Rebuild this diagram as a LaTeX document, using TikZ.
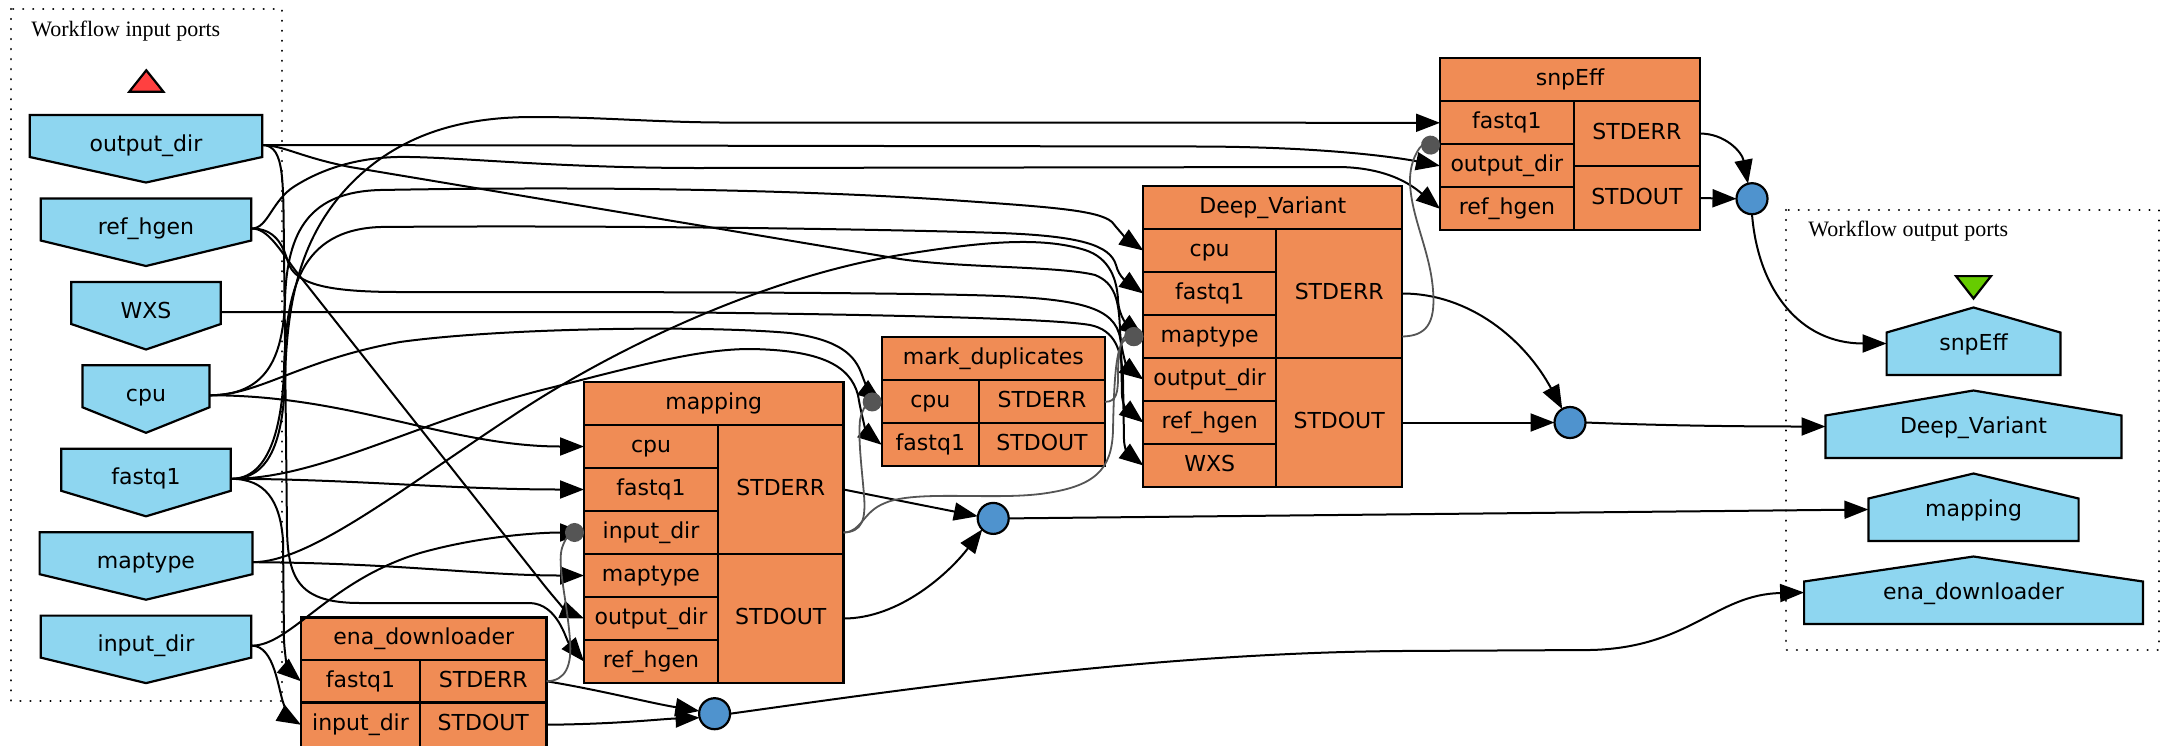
\documentclass[tikz,border=0pt]{standalone}
\usepackage{fontspec}
\setmainfont{DejaVu Sans}
\newfontfamily\titlefont{Liberation Serif}
\usetikzlibrary{arrows.meta}
\definecolor{procfill}{HTML}{F08C55}
\definecolor{portfill}{HTML}{8ED6F0}
\definecolor{circfill}{HTML}{4F93CE}
\definecolor{ctrlgray}{HTML}{555555}
\definecolor{redtri}{HTML}{FF4040}
\definecolor{greentri}{HTML}{66CC00}
\newcommand{\pcell}[6]{%
  \node[pcell, minimum width={(#4-#2)*0.5pt}, minimum height={(#5-#3)*0.5pt}] (#1) at ({(#2+#4)/2},{(#3+#5)/2}) {#6};}
\newcommand{\inport}[4]{%
  \draw[portshape] ({146-#3},#2) -- ({146+#3},#2) -- ({146+#3},{#2+42}) -- (146,{#2+67.5}) -- ({146-#3},{#2+42}) -- cycle;
  \node[anchor=base] (in-#1) at (146,{#2+36}) {#4};
  \coordinate (o-#1) at ({146+#3+0.5},{#2+30});}
\newcommand{\outport}[4]{%
  \draw[portshape] (1973.5,#2) -- ({1973.5+#3},{#2+25}) -- ({1973.5+#3},{#2+67.4}) -- ({1973.5-#3},{#2+67.4}) -- ({1973.5-#3},{#2+25}) -- cycle;
  \node[anchor=base] (out-#1) at (1973.5,{#2+43.3}) {#4};
  \coordinate (t-#1) at ({1973.5-#3},{#2+36});}
\begin{document}
\begin{tikzpicture}[x=0.5pt,y=-0.5pt,
  every node/.style={font=\fontsize{11pt}{13pt}\selectfont},
  pcell/.style={draw=black, line width=1.1pt, fill=procfill, inner sep=0pt, outer sep=0pt, text height=8pt, text depth=2pt},
  portshape/.style={draw=black, line width=1.1pt, fill=portfill},
  bcirc/.style={circle, draw=black, line width=1.1pt, fill=circfill, minimum size=15.5pt, inner sep=0pt, outer sep=0pt},
  dotbox/.style={draw=black, line width=1.2pt, dash pattern=on 0.01pt off 5pt, line cap=round},
  link/.style={draw=black, line width=1pt, -{Triangle[length=12pt,width=9pt]}},
  ctrl/.style={draw=ctrlgray, line width=0.9pt, -{Circle[length=9.5pt]}},
  boxtitle/.style={anchor=base west, inner sep=0pt, font=\titlefont\fontsize{11pt}{13pt}\selectfont}]
\useasboundingbox (0,0) rectangle (2163,745);

% ---------- input ports ----------
\draw[dotbox] (11,9) rectangle (282,701);
\node[boxtitle] (inlbl) at (31,36) {Workflow input ports};
\draw[fill=redtri, draw=black, line width=1.1pt] (129.3,91.7) -- (163.4,91.7) -- (146.3,70.3) -- cycle;
\inport{od}{115}{116.3}{output\_dir}
\inport{rh}{198.5}{105.3}{ref\_hgen}
\inport{wxs}{282}{74.8}{WXS}
\inport{cpu}{365.3}{63.5}{cpu}
\inport{fq}{448.8}{84.8}{fastq1}
\inport{mt}{532.2}{106.4}{maptype}
\inport{id}{615.6}{105.3}{input\_dir}

% ---------- output ports ----------
\draw[dotbox] (1786,210) rectangle (2159,650);
\node[boxtitle] (outlbl) at (1808,236) {Workflow output ports};
\draw[fill=greentri, draw=black, line width=1.1pt] (1956,276.1) -- (1991,276.1) -- (1973.5,298.5) -- cycle;
\outport{se}{307.5}{86.9}{snpEff}
\outport{dv}{390.5}{148}{Deep\_Variant}
\outport{map}{473.5}{105.1}{mapping}
\outport{ena}{556.5}{169.4}{ena\_downloader}

% ---------- processors ----------
\pcell{ena-t}{301}{617.5}{546.5}{660}{ena\_downloader}
\pcell{ena-fq}{301}{660}{420}{702.5}{fastq1}
\pcell{ena-id}{301}{702.5}{420}{747}{input\_dir}
\pcell{ena-err}{420}{660}{546.5}{702.5}{STDERR}
\pcell{ena-out}{420}{702.5}{546.5}{747}{STDOUT}

\pcell{map-t}{584}{382}{843.5}{425}{mapping}
\pcell{map-cpu}{584}{425}{718}{468}{cpu}
\pcell{map-fq}{584}{468}{718}{511}{fastq1}
\pcell{map-id}{584}{511}{718}{554}{input\_dir}
\pcell{map-mt}{584}{554}{718}{597}{maptype}
\pcell{map-od}{584}{597}{718}{640}{output\_dir}
\pcell{map-rh}{584}{640}{718}{683}{ref\_hgen}
\pcell{map-err}{718}{425}{843.5}{554}{STDERR}
\pcell{map-out}{718}{554}{843.5}{683}{STDOUT}

\pcell{md-t}{881.7}{337.3}{1105}{380.3}{mark\_duplicates}
\pcell{md-cpu}{881.7}{380.3}{979}{423.3}{cpu}
\pcell{md-fq}{881.7}{423.3}{979}{466.3}{fastq1}
\pcell{md-err}{979}{380.3}{1105}{423.3}{STDERR}
\pcell{md-out}{979}{423.3}{1105}{466.3}{STDOUT}

\pcell{dv-t}{1143.3}{186}{1402.3}{229}{Deep\_Variant}
\pcell{dv-cpu}{1143.3}{229}{1276}{272}{cpu}
\pcell{dv-fq}{1143.3}{272}{1276}{315}{fastq1}
\pcell{dv-mt}{1143.3}{315}{1276}{358}{maptype}
\pcell{dv-od}{1143.3}{358}{1276}{401}{output\_dir}
\pcell{dv-rh}{1143.3}{401}{1276}{444}{ref\_hgen}
\pcell{dv-wxs}{1143.3}{444}{1276}{487}{WXS}
\pcell{dv-err}{1276}{229}{1402.3}{358}{STDERR}
\pcell{dv-out}{1276}{358}{1402.3}{487}{STDOUT}

\pcell{se-t}{1440}{58.3}{1700}{101.3}{snpEff}
\pcell{se-fq}{1440}{101.3}{1573.7}{144.3}{fastq1}
\pcell{se-od}{1440}{144.3}{1573.7}{187.3}{output\_dir}
\pcell{se-rh}{1440}{187.3}{1573.7}{230.3}{ref\_hgen}
\pcell{se-err}{1573.7}{101.3}{1700}{165.8}{STDERR}
\pcell{se-out}{1573.7}{165.8}{1700}{230.3}{STDOUT}

% ---------- merge circles ----------
\node[bcirc] (c1) at (714.6,713.7) {};
\node[bcirc] (c2) at (993.2,518.4) {};
\node[bcirc] (c3) at (1570,422.5) {};
\node[bcirc] (c4) at (1752,198.7) {};

% ---------- data links from input ports ----------
\draw[link] (o-fq) .. controls (270,479) and (283,440) .. (285,380) .. controls (287,300) and (300,230) .. (360,175) .. controls (410,130) and (470,117) .. (533,117) .. controls (600,117) and (650,122) .. (720,122.5) -- (se-fq.west);
\draw[link] (o-od) -- (1200,146.5) .. controls (1330,147) and (1400,158) .. (se-od.west);
\draw[link] (o-rh) .. controls (268,228.5) and (272,200) .. (295,186) .. controls (330,164) and (370,156) .. (410,157) .. controls (470,158) and (560,168) .. (700,168) -- (1340,167) .. controls (1392,168) and (1415,188) .. (se-rh.west);
\draw[link] (o-cpu) .. controls (265,395) and (283,360) .. (285,300) .. controls (287,230) and (310,192) .. (380,190) .. controls (600,186) and (800,190) .. (950,200) .. controls (1050,207) and (1098,210) .. (1112,222) .. controls (1120,232) and (1128,240) .. (dv-cpu.west);
\draw[link] (o-fq) .. controls (268,479) and (282,430) .. (284,370) .. controls (286,290) and (300,230) .. (380,227) .. controls (600,225) and (880,229) .. (1000,233) .. controls (1080,236) and (1110,245) .. (1116,265) .. controls (1119,278) and (1129,283) .. (dv-fq.west);
\draw[link] (o-mt) .. controls (310,562) and (400,490) .. (517,413) .. controls (600,358) and (750,280) .. (900,255) .. controls (980,242) and (1040,236) .. (1085,250) .. controls (1110,258) and (1117,280) .. (1118,300) .. controls (1119,318) and (1129,326) .. (dv-mt.west);
\draw[link] (o-od) .. controls (285,146) and (300,157) .. (350,167) -- (900,259) .. controls (960,268) and (1060,266) .. (1095,275) .. controls (1115,283) and (1119,300) .. (1120,330) .. controls (1121,355) and (1129,369) .. (dv-od.west);
\draw[link] (o-rh) .. controls (275,228.5) and (283,245) .. (288,262) .. controls (295,285) and (330,292) .. (400,292) .. controls (600,292) and (900,292) .. (1000,296) .. controls (1090,300) and (1119,310) .. (1121,345) -- (1122,395) .. controls (1123,410) and (1130,412) .. (dv-rh.west);
\draw[link] (o-wxs) -- (650,312) .. controls (850,314) and (1050,318) .. (1090,325) .. controls (1115,330) and (1122,350) .. (1123,380) -- (1124,440) .. controls (1125,455) and (1131,456) .. (dv-wxs.west);
\draw[link] (o-cpu) .. controls (260,395) and (300,360) .. (400,342) .. controls (500,328) and (700,325) .. (790,333) .. controls (840,340) and (855,355) .. (862,375) .. controls (866,386) and (870,393) .. (md-cpu.west);
\draw[link] (o-fq) .. controls (320,479) and (420,420) .. (550,388) .. controls (640,365) and (700,349) .. (750,349) .. controls (820,350) and (850,365) .. (858,395) .. controls (862,420) and (868,434) .. (md-fq.west);
\draw[link] (o-cpu) .. controls (350,395) and (450,446.5) .. (map-cpu.west);
\draw[link] (o-fq) .. controls (350,479) and (450,489.5) .. (map-fq.west);
\draw[link] (o-fq) .. controls (265,479) and (280,500) .. (283,540) -- (284,640) .. controls (285,660) and (289,671) .. (ena-fq.west);
\draw[link] (o-id) .. controls (275,646) and (278,690) .. (284,705) .. controls (287,714) and (291,719) .. (ena-id.west);
\draw[link] (o-id) .. controls (290,646) and (330,580) .. (420,553) .. controls (480,536) and (540,532.5) .. (map-id.west);
\draw[link] (o-mt) .. controls (400,563) and (480,575.5) .. (map-mt.west);
\draw[link] (o-rh) .. controls (268,228.5) and (280,250) .. (295,270) -- (540,580) .. controls (558,603) and (568,612) .. (map-od.west);
\draw[link] (o-od) .. controls (285,146) and (283,180) .. (284,250) -- (287,530) .. controls (288,580) and (300,603) .. (360,603) -- (530,603) .. controls (558,604) and (566,640) .. (map-rh.west);

% ---------- outputs to merge circles ----------
\draw[link] (ena-err.east) .. controls (600,690) and (650,703) .. (c1.170);
\draw[link] (ena-out.east) .. controls (620,724) and (660,719) .. (c1.195);
\draw[link] (c1.east) .. controls (900,690) and (1150,653) .. (1400,651) -- (1590,650) .. controls (1690,648) and (1715,594.5) .. (t-ena);
\draw[link] (map-err.east) -- (c2.172);
\draw[link] (map-out.east) .. controls (900,618.5) and (950,572) .. (c2.225);
\draw[link] (c2.east) -- (t-map);
\draw[link] (dv-err.east) .. controls (1470,293.5) and (1525,340) .. (c3.120);
\draw[link] (dv-out.east) -- (c3.west);
\draw[link] (c3.east) .. controls (1650,425) and (1720,426.5) .. (t-dv);
\draw[link] (se-err.east) .. controls (1725,133.5) and (1742,152) .. (c4.105);
\draw[link] (se-out.east) -- (c4.west);
\draw[link] (c4.south) .. controls (1758,290) and (1800,343.5) .. (t-se);

% ---------- control links ----------
\draw[ctrl] (ena-err.east) .. controls (566,681) and (572,665) .. (570,640) .. controls (567,600) and (557,565) .. (562,548) .. controls (565,538) and (572,532.5) .. (map-id.west);
\draw[ctrl] (map-err.east |- map-id.west) .. controls (862,532) and (866,520) .. (864,495) .. controls (862,470) and (858,440) .. (860,420) .. controls (862,408) and (870,402) .. (md-cpu.west);
\draw[ctrl] (map-err.east |- map-id.west) .. controls (862,532) and (862,512) .. (885,503) .. controls (915,490) and (990,500) .. (1040,494) .. controls (1095,487) and (1112,470) .. (1113,430) .. controls (1114,380) and (1116,345) .. (1125,340) .. controls (1130,337) and (1135,336.5) .. (dv-mt.west);
\draw[ctrl] (md-err.east) .. controls (1117,402) and (1118,392) .. (1118,375) .. controls (1118,350) and (1122,337) .. (dv-mt.west);
\draw[ctrl] (dv-err.east |- dv-mt.west) .. controls (1425,336) and (1436,325) .. (1433,290) .. controls (1430,250) and (1410,215) .. (1410,180) .. controls (1410,160) and (1420,146) .. (se-od.north west);
\end{tikzpicture}
\end{document}
